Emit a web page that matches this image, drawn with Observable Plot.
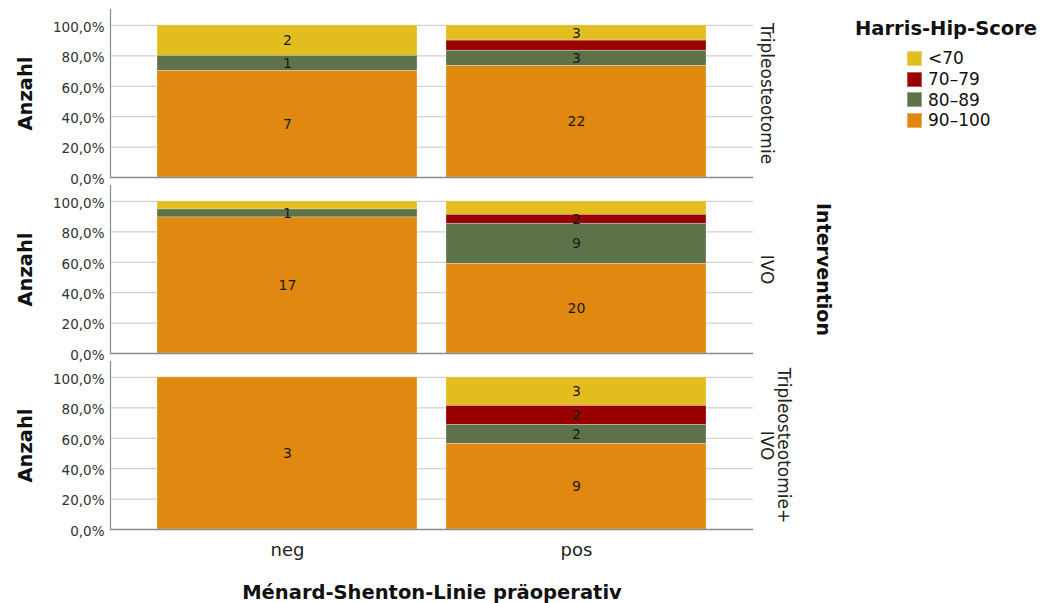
<!DOCTYPE html>
<html>
<head>
<meta charset="utf-8">
<script src="https://cdn.jsdelivr.net/npm/d3@7"></script>
<script src="https://cdn.jsdelivr.net/npm/@observablehq/plot@0.6"></script>
<style>
  html, body { margin: 0; padding: 0; background: #fff; }
  #wrap { position: relative; width: 1049px; height: 603px; font-family: "DejaVu Sans", sans-serif; }
  #legend { position: absolute; left: 855px; top: 17px; color: #111; }
  #legend .title { font-weight: bold; font-size: 19.5px; margin-bottom: 8px; }
  #legend .item { display: flex; align-items: center; height: 20.7px; margin-left: 52px; font-size: 17px; }
  #legend .sw { width: 15px; height: 15px; margin-right: 6px; box-sizing: border-box; border: 1px solid rgba(255,255,255,0.35); }
</style>
</head>
<body>
<div id="wrap"></div>
<script>
// ---- data ----
const interventions = ["Tripleosteotomie", "IVO", "Tripleosteotomie+IVO"];
const interventionLabels = ["Tripleosteotomie", "IVO", "Tripleosteotomie+\nIVO"];
const groups = ["neg", "pos"];
const scores = ["<70", "70-79", "80-89", "90-100"];
const scoreColors = ["#E1BD1F", "#990000", "#5E7249", "#E0880F"];
const stackOrder = ["90-100", "80-89", "70-79", "<70"];
// counts per score category (order as in `scores`)
const tripleNeg = [2, 0, 1, 7];
const triplePos = [3, 2, 3, 22];
const ivoNeg = [1, 0, 1, 17];
const ivoPos = [3, 2, 9, 20];
const comboNeg = [0, 0, 0, 3];
const comboPos = [3, 2, 2, 9];
// labels that the original chart does not print
const hiddenLabels = [["Tripleosteotomie", "pos", "70-79"], ["IVO", "neg", "<70"], ["IVO", "pos", "<70"]];
const yTicks = [0, 0.2, 0.4, 0.6, 0.8, 1];
const yTitle = "Anzahl";
const xTitle = "Ménard-Shenton-Linie präoperativ";
const facetTitle = "Intervention";
const legendTitle = "Harris-Hip-Score";

// ---- build table ----
const cells = [
  ["Tripleosteotomie", "neg", tripleNeg], ["Tripleosteotomie", "pos", triplePos],
  ["IVO", "neg", ivoNeg], ["IVO", "pos", ivoPos],
  ["Tripleosteotomie+IVO", "neg", comboNeg], ["Tripleosteotomie+IVO", "pos", comboPos]
];
const data = [];
for (const [iv, g, arr] of cells) {
  arr.forEach((c, i) => {
    if (c > 0) {
      const hidden = hiddenLabels.some(h => h[0] === iv && h[1] === g && h[2] === scores[i]);
      data.push({intervention: iv, group: g, score: scores[i], count: c, label: hidden ? "" : String(c)});
    }
  });
}
const fmt = d => (d * 100).toFixed(1).replace(".", ",") + "%";
const labelOf = iv => interventionLabels[interventions.indexOf(iv)];

const chart = Plot.plot({
  width: 1049,
  height: 603,
  marginLeft: 110,
  marginRight: 296,
  marginTop: 9,
  marginBottom: 74,
  style: {fontFamily: "DejaVu Sans, sans-serif", background: "#fff", overflow: "visible"},
  x: {domain: groups, paddingInner: 0.1, paddingOuter: 0.16, axis: null},
  y: {domain: [0, 1.105], axis: null},
  fy: {domain: interventions, paddingInner: 0.047, paddingOuter: 0, axis: null},
  color: {domain: scores, range: scoreColors},
  marks: [
    Plot.gridY(yTicks.filter(t => t > 0), {stroke: "#d2d2d2", strokeOpacity: 1, strokeWidth: 1.3}),
    Plot.barY(data, Plot.stackY({
      x: "group", y: "count", fill: "score", fy: "intervention", z: "score",
      offset: "normalize", order: stackOrder,
      stroke: "#fff", strokeOpacity: 0.35, strokeWidth: 0.8
    })),
    Plot.text(data, Plot.stackY({
      x: "group", y: "count", fy: "intervention", z: "score", text: "label",
      offset: "normalize", order: stackOrder,
      fontSize: 14, fill: "#1a1a1a"
    })),
    Plot.ruleY([0], {stroke: "#8a8a8a", strokeWidth: 1.5}),
    Plot.frame({anchor: "left", stroke: "#8a8a8a", strokeWidth: 1.2}),
    Plot.axisY({ticks: yTicks, tickSize: 0, tickPadding: 6, tickFormat: fmt, fontSize: 13.5, label: null, color: "#333", dy: 2}),
    Plot.axisX({tickSize: 0, tickPadding: 14, fontSize: 18, label: null, color: "#222"}),
    Plot.text(interventions, {fy: d => d, text: d => labelOf(d), frameAnchor: "right", dx: 7,
      rotate: 90, textAnchor: "middle", lineAnchor: "bottom", fontSize: 17, fill: "#222"}),
    Plot.text(interventions, {fy: d => d, text: () => yTitle, frameAnchor: "left", dx: -85,
      rotate: -90, textAnchor: "middle", fontSize: 19.5, fontWeight: "bold", fill: "#111"}),
    Plot.text(["IVO"], {fy: d => d, text: () => facetTitle, frameAnchor: "right", dx: 70,
      rotate: 90, textAnchor: "middle", fontSize: 19, fontWeight: "bold", fill: "#111"}),
    Plot.text(["Tripleosteotomie+IVO"], {fy: d => d, text: () => xTitle, frameAnchor: "bottom",
      textAnchor: "middle", lineAnchor: "top", dy: 56, fontSize: 19.5, fontWeight: "bold", fill: "#111"})
  ]
});

const wrap = document.getElementById("wrap");
wrap.appendChild(chart);

// legend (HTML, above the chart layer)
const legend = document.createElement("div");
legend.id = "legend";
const t = document.createElement("div");
t.className = "title";
t.textContent = legendTitle;
legend.appendChild(t);
scores.forEach((s, i) => {
  const item = document.createElement("div");
  item.className = "item";
  const sw = document.createElement("span");
  sw.className = "sw";
  sw.style.background = scoreColors[i];
  const lab = document.createElement("span");
  lab.textContent = s.replace("-", "\u2013");
  item.appendChild(sw);
  item.appendChild(lab);
  legend.appendChild(item);
});
wrap.appendChild(legend);
</script>
</body>
</html>
